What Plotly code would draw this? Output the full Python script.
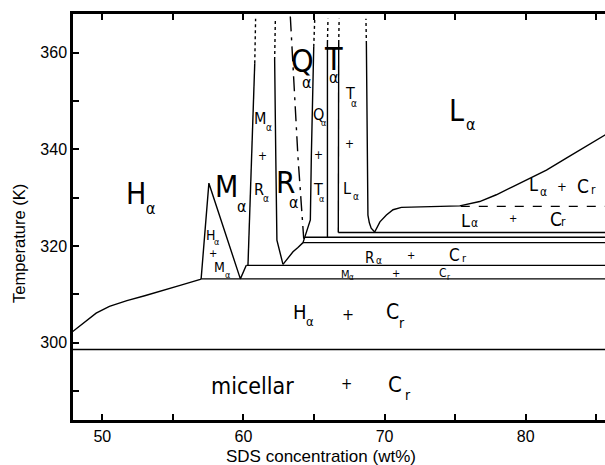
import plotly.graph_objects as go

# ---------------- data (SDS wt%, temperature K) ----------------
hc_x = [47.9, 48.5, 49.56, 50.5, 51.74, 53.0, 53.66, 54.5, 55.57, 56.94, 57.0]
hc_T = [302.3, 303.7, 306.1, 307.5, 308.7, 309.7, 310.3, 311.0, 311.9, 313.1, 313.2]

tri_x = [57.0, 57.55, 59.78, 60.2]
tri_T = [313.2, 333.0, 313.2, 316.0]

mr_x = [60.32, 60.56, 60.80]
mr_T = [316.0, 338.5, 357.8]
mr_dot_x = [60.80, 60.86]
mr_dot_T = [357.8, 367.0]

rl_x = [62.80, 62.37, 62.29, 62.21]
rl_T = [316.2, 321.2, 338.5, 358.5]
rl_dot_x = [62.21, 62.26]
rl_dot_T = [358.5, 367.0]

rb_x = [62.80, 63.15, 63.51, 63.86, 64.22]
rb_T = [316.2, 317.5, 318.8, 319.7, 320.7]

rq_x = [63.32, 63.86, 64.27]
rq_T = [367.5, 338.5, 321.5]

qr_x = [64.22, 64.34, 64.74, 64.81, 64.98]
qr_T = [320.7, 321.8, 325.4, 338.5, 361.2]
qr_dot_x = [64.98, 65.05]
qr_dot_T = [361.2, 367.0]

tl_x = [65.95, 65.93, 65.95]
tl_T = [321.8, 338.5, 362.0]
tl_dot_x = [65.95, 65.99]
tl_dot_T = [362.0, 367.0]

tr_x = [66.72, 66.72, 66.75]
tr_T = [322.8, 338.5, 362.0]
tr_dot_x = [66.75, 66.78]
tr_dot_T = [362.0, 367.0]

ll_x = [68.71, 68.75, 68.82, 68.92, 69.05, 69.3]
ll_T = [361.8, 338.5, 326.4, 324.8, 323.7, 322.9]
ll_dot_x = [68.71, 68.68]
ll_dot_T = [361.8, 367.0]

lc_x = [69.3, 69.67, 70.13, 70.6, 71.19, 73.2, 75.33, 76.74, 77.92, 79.1, 80.28, 81.47, 82.88, 84.3, 85.7]
lc_T = [322.9, 325.0, 326.4, 327.5, 328.0, 328.2, 328.3, 329.2, 330.6, 332.3, 334.0, 335.7, 338.2, 340.6, 343.1]

# horizontal (invariant) lines: start x, temperature
h_start = [47.9, 57.0, 60.2, 64.22, 64.34, 66.72]
h_T = [298.6, 313.2, 316.0, 320.7, 321.8, 322.8]
dash_start = 75.4
dash_T = 328.2
x_end = 86.0

x_range = [47.92, 85.62]
T_range = [284.0, 368.0]
x_ticks = [50, 60, 70, 80]
T_ticks = [300, 320, 340, 360]

# labels: (text, x, T, size)
labels = [
    ("H", 52.38, 330.85, 30), ("α", 53.47, 327.7, 16),
    ("M", 58.79, 332.27, 30), ("α", 59.89, 328.13, 16),
    ("R", 62.98, 333.14, 31), ("α", 63.56, 329.0, 16),
    ("Q", 64.16, 358.32, 32), ("α", 64.50, 353.83, 16),
    ("T", 66.38, 358.66, 32), ("α", 66.39, 354.87, 16),
    ("L", 75.07, 347.94, 30), ("α", 76.10, 345.14, 16),
    # M + R
    ("M", 61.20, 346.43, 16), ("α", 61.79, 344.56, 10), ("+", 61.34, 338.69, 12),
    ("R", 61.09, 331.76, 16), ("α", 61.62, 329.87, 10),
    # Q + T
    ("Q", 65.34, 347.27, 16), ("α", 65.70, 345.39, 9), ("+", 65.35, 338.83, 12),
    ("T", 65.28, 331.59, 16), ("α", 65.52, 329.67, 9),
    # T + L
    ("T", 67.53, 351.60, 16), ("α", 67.83, 349.53, 10), ("+", 67.48, 341.11, 12),
    ("L", 67.37, 331.94, 16), ("α", 68.00, 330.20, 10),
    # H + M triangle
    ("H", 57.66, 322.28, 14), ("α", 58.08, 320.89, 9), ("+", 57.84, 318.49, 11),
    ("M", 58.31, 315.56, 14), ("α", 58.90, 314.0, 9),
    # M + Cr
    ("M", 67.20, 314.13, 11), ("α", 67.69, 313.43, 8), ("+", 70.84, 314.33, 11),
    ("C", 74.11, 314.42, 12), ("r", 74.54, 313.53, 8),
    # R + Cr
    ("R", 68.92, 317.60, 15), ("α", 69.60, 316.90, 10), ("+", 71.85, 318.04, 11),
    ("C", 74.97, 318.20, 17), ("r", 75.68, 317.46, 11),
    # L + Cr (lower)
    ("L", 75.73, 325.38, 18), ("α", 76.39, 324.70, 12), ("+", 79.10, 325.59, 11),
    ("C", 82.18, 325.55, 19), ("r", 82.71, 325.03, 12),
    # L + Cr (upper)
    ("L", 80.52, 332.63, 18), ("α", 81.23, 331.24, 12), ("+", 82.60, 332.27, 13),
    ("C", 84.06, 332.46, 19), ("r", 84.77, 331.59, 12),
    # H + Cr
    ("H", 64.03, 306.41, 20), ("α", 64.68, 304.34, 13), ("+", 67.42, 305.73, 16),
    ("C", 70.56, 306.41, 21), ("r", 71.25, 304.01, 14),
    # micellar + Cr
    ("micellar", 60.65, 291.04, 23), ("+", 67.28, 291.39, 15),
    ("C", 70.75, 291.39, 22), ("r", 71.65, 289.17, 14),
]

# ---------------- figure ----------------
fig = go.Figure()
BLK = "black"
LW = 1.4


def add_line(xs, ys, dash="solid", width=LW):
    fig.add_trace(go.Scatter(x=xs, y=ys, mode="lines",
                             line=dict(color=BLK, width=width, dash=dash),
                             hoverinfo="skip", showlegend=False))


add_line(hc_x, hc_T)
add_line(tri_x, tri_T)
add_line(mr_x, mr_T)
add_line(mr_dot_x, mr_dot_T, dash="dot")
add_line(rl_x, rl_T)
add_line(rl_dot_x, rl_dot_T, dash="dot")
add_line(rb_x, rb_T)
add_line(rq_x, rq_T, dash="longdashdot")
add_line(qr_x, qr_T)
add_line(qr_dot_x, qr_dot_T, dash="dot")
add_line(tl_x, tl_T)
add_line(tl_dot_x, tl_dot_T, dash="dot")
add_line(tr_x, tr_T)
add_line(tr_dot_x, tr_dot_T, dash="dot")
add_line(ll_x, ll_T)
add_line(ll_dot_x, ll_dot_T, dash="dot")
add_line(lc_x, lc_T)
for xs, t in zip(h_start, h_T):
    add_line([xs, x_end], [t, t])
add_line([dash_start, x_end], [dash_T, dash_T], dash="dash", width=1.1)

LABEL_FONT = "Liberation Sans Narrow, DejaVu Sans Condensed, Liberation Sans, Arial, sans-serif"
for txt, x, t, size in labels:
    fig.add_annotation(x=x, y=t, xref="x", yref="y", text=txt, showarrow=False,
                       xanchor="center", yanchor="middle",
                       font=dict(family=LABEL_FONT, size=size, color=BLK))

AX_FONT = "Liberation Sans, Arial, sans-serif"
fig.add_annotation(x=-0.1015, y=0.4335, xref="paper", yref="paper",
                   text="Temperature (K)", textangle=-90, showarrow=False,
                   xanchor="center", yanchor="middle",
                   font=dict(family=AX_FONT, size=16.5, color=BLK))
fig.add_annotation(x=0.466, y=-0.0887, xref="paper", yref="paper",
                   text="SDS concentration (wt%)", showarrow=False,
                   xanchor="center", yanchor="middle",
                   font=dict(family=AX_FONT, size=17, color=BLK))

fig.update_xaxes(range=x_range, tickvals=x_ticks, ticktext=[str(v) for v in x_ticks],
                 ticks="inside", ticklen=6, tickwidth=1.5, tickcolor=BLK,
                 minor=dict(ticks="inside", dtick=5, tick0=50, ticklen=6, tickwidth=1.5, tickcolor=BLK),
                 showline=True, linewidth=2.5, linecolor=BLK, mirror="ticks",
                 showgrid=False, zeroline=False,
                 tickfont=dict(family=AX_FONT, size=16, color=BLK))
fig.update_yaxes(range=T_range, tickvals=T_ticks, ticktext=[str(v) for v in T_ticks],
                 ticks="inside", ticklen=6, tickwidth=1.5, tickcolor=BLK,
                 minor=dict(ticks="inside", dtick=10, tick0=300, ticklen=6, tickwidth=1.5, tickcolor=BLK),
                 showline=True, linewidth=2.5, linecolor=BLK, mirror=False,
                 showgrid=False, zeroline=False,
                 tickfont=dict(family=AX_FONT, size=16, color=BLK))

fig.update_layout(width=605, height=465,
                  margin=dict(l=73, r=0, t=14, b=45),
                  plot_bgcolor="white", paper_bgcolor="white",
                  showlegend=False)

fig.write_html("out.html", config={"displayModeBar": False},
               post_script="document.body.style.margin='0';document.body.style.padding='0';")
